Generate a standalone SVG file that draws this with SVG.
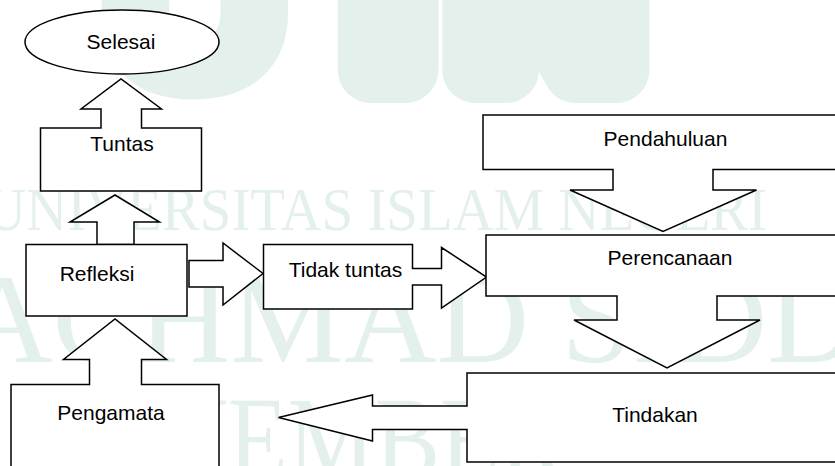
<svg xmlns="http://www.w3.org/2000/svg" width="835" height="466" viewBox="0 0 835 466">
  <style>
    .shape { fill: #ffffff; stroke: #000000; stroke-width: 1.5; stroke-linejoin: miter; }
    .label { font-family: "Liberation Sans", Arial, sans-serif; font-size: 21px; fill: #000000; text-anchor: middle; }
    .wm { font-family: "Liberation Serif", "Times New Roman", serif; fill: #e4f0ec; }
    .wm-big { font-family: "Liberation Sans", Arial, sans-serif; font-weight: bold; fill: #e4f0ec; stroke: #e4f0ec; stroke-linejoin: round; text-anchor: middle; }
  </style>

  <rect x="0" y="0" width="835" height="466" fill="#ffffff"/>

  <!-- background watermark -->
  <g id="watermark">
    <text class="wm-big" x="195" y="82" font-size="260" stroke-width="30">U</text>
    <text class="wm-big" x="388" y="70" font-size="240" stroke-width="66">I</text>
    <text class="wm-big" x="546" y="70" font-size="240" stroke-width="66">N</text>
    <text class="wm" x="-15" y="230" font-size="62" textLength="782" lengthAdjust="spacingAndGlyphs">UNIVERSITAS ISLAM NEGERI</text>
    <text class="wm" x="-40" y="362" font-size="128">ACHMAD SIDDIQ</text>
    <text class="wm" x="190" y="480" font-size="120" textLength="375" lengthAdjust="spacingAndGlyphs">JEMBER</text>
  </g>

  <!-- free-standing block arrows -->
  <g id="connectors">
    <path class="shape" d="M97,244.5 L97,222 L70,222 L115,195 L159.5,222 L134,222 L134,244.5 Z"/>
    <path class="shape" d="M189,260.5 L223,260.5 L223,243 L263,273.5 L223,305 L223,287 L189,287 Z"/>
  </g>

  <g id="selesai">
    <ellipse class="shape" cx="122" cy="42" rx="97" ry="32"/>
    <text class="label" x="121" y="49">Selesai</text>
  </g>

  <g id="tuntas">
    <path class="shape" d="M40.5,128 L101,128 L101,109 L81,109 L121,79 L161.5,109 L141.5,109 L141.5,128 L201.5,128 L201.5,191 L40.5,191 Z"/>
    <text class="label" x="122" y="151">Tuntas</text>
  </g>

  <g id="refleksi">
    <rect class="shape" x="26" y="244.5" width="161" height="71.5"/>
    <text class="label" x="97" y="281">Refleksi</text>
  </g>

  <g id="pengamata">
    <path class="shape" d="M11,480 L11,384.5 L89.5,384.5 L89.5,359.5 L63.5,359.5 L115,319 L166.5,359.5 L141.5,359.5 L141.5,384.5 L219,384.5 L219,480 Z"/>
    <text class="label" x="111" y="420">Pengamata</text>
  </g>

  <g id="tidak-tuntas">
    <path class="shape" d="M263.5,244.5 L412.5,244.5 L412.5,268.5 L441.5,268.5 L441.5,247.5 L486.5,277 L441.5,308 L441.5,285 L412.5,285 L412.5,309 L263.5,309 Z"/>
    <text class="label" x="345.5" y="277">Tidak tuntas</text>
  </g>

  <g id="pendahuluan">
    <path class="shape" d="M483,115 L850,115 L850,169.5 L713,169.5 L713,190 L756.5,190 L663,231.5 L570,190 L613,190 L613,169.5 L483,169.5 Z"/>
    <text class="label" x="665.5" y="146">Pendahuluan</text>
  </g>

  <g id="perencanaan">
    <path class="shape" d="M486,235 L850,235 L850,296 L717,296 L717,320 L760,320 L667,368 L574,320 L617,320 L617,296 L486,296 Z"/>
    <text class="label" x="670" y="265">Perencanaan</text>
  </g>

  <g id="tindakan">
    <path class="shape" d="M467,373 L850,373 L850,462 L467,462 L467,429.5 L372.5,429.5 L372.5,441 L278.5,417.5 L372.5,395 L372.5,406 L467,406 Z"/>
    <text class="label" x="655" y="421.5">Tindakan</text>
  </g>
</svg>
